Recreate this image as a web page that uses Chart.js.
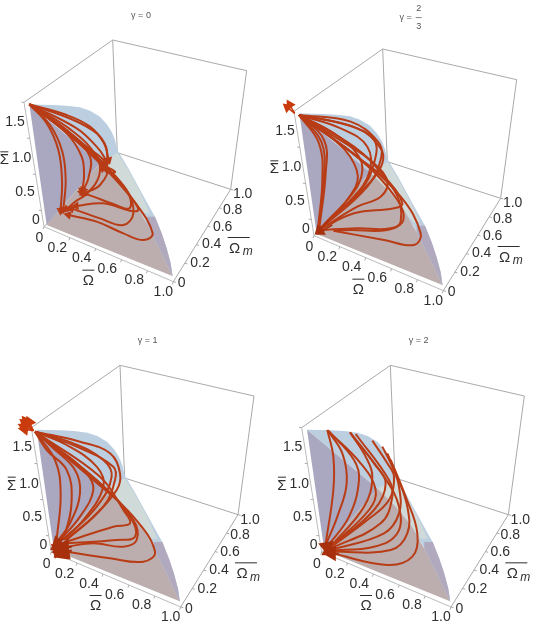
<!DOCTYPE html>
<html><head><meta charset="utf-8">
<style>html,body{margin:0;padding:0;background:#fff;overflow:hidden}
#wrap{position:relative;width:548px;height:627px;overflow:hidden}
canvas{position:absolute;filter:blur(0.35px)}</style>
<script src="https://cdn.jsdelivr.net/npm/chart.js@4"></script></head>
<body><div id="wrap">
<canvas id="c0"></canvas><canvas id="c1"></canvas><canvas id="c2"></canvas><canvas id="c3"></canvas>
</div>
<script>
// tick labels
const sigmaTicks=["1.5","1.0","0.5","0"];
const omegaTicks=["0","0.2","0.4","0.6","0.8","1.0"];
const omegaMTicks=["0","0.2","0.4","0.6","0.8","1.0"];
const gammaTitles=["γ = 0","γ = 2/3","γ = 1","γ = 2"];

// trajectories (projected view coordinates, [x,y])
const curvesG0=[
 [[88,313],[140,370],[175,450],[186,540],[182,632]],
 [[88,313],[150,375],[187,455],[197,540],[190,628]],
 [[88,313],[200,400],[245,470],[252,530],[246,572]],
 [[88,313],[210,400],[270,470],[265,535],[250,570]],
 [[88,313],[220,395],[290,470],[298,525],[262,580],[225,605],[200,628]],
 [[88,313],[230,385],[290,440],[312,470],[318,488]],
 [[88,313],[220,360],[290,400],[318,440],[322,482]],
 [[88,313],[200,345],[270,380],[312,430],[326,480]],
 [[88,313],[200,390],[300,480],[400,600],[458,700],[430,720],[370,700],[290,665],[205,645]],
 [[88,313],[190,390],[300,490],[380,570],[400,640],[370,675],[300,655],[215,625]],
 [[88,313],[210,400],[320,510],[395,595],[415,630],[390,632],[310,610],[228,618]],
 [[88,313],[230,420],[320,500],[385,580],[388,625],[340,612],[280,590],[245,578]],
 [[88,313],[260,440],[322,500],[300,555],[250,580]],
 [[300,490],[345,515],[325,518],[308,505]],
];
const curvesG23=[
 [[75,345],[135,430],[145,540],[132,685]],
 [[75,345],[142,425],[150,530],[134,685]],
 [[75,345],[150,420],[155,520],[136,685]],
 [[75,345],[170,410],[240,490],[245,560],[135,690]],
 [[75,345],[180,400],[255,470],[262,530],[220,600],[135,690]],
 [[75,345],[200,385],[280,440],[285,520],[230,600],[135,690]],
 [[75,345],[220,375],[300,420],[300,490],[260,570],[135,690]],
 [[75,345],[230,365],[312,425],[322,470],[280,560],[135,690]],
 [[75,345],[250,385],[320,445],[325,490],[290,545],[135,690]],
 [[75,345],[240,440],[340,540],[385,610],[360,625],[240,640],[135,690]],
 [[75,345],[250,470],[380,590],[440,700],[420,735],[330,720],[178,692]],
 [[75,345],[260,480],[370,600],[388,660],[350,685],[250,685],[140,690]],
 [[75,345],[250,470],[360,570],[380,665],[340,690],[230,690],[180,692]],
 [[75,345],[230,440],[300,490],[340,545],[320,590],[250,620],[135,690]],
];
const curvesG1=[
 [[105,335],[165,420],[182,520],[170,660]],
 [[105,335],[140,390],[200,450],[215,540],[195,640],[172,665]],
 [[105,335],[160,385],[225,450],[240,520],[210,610],[175,660]],
 [[105,335],[180,390],[260,460],[280,510],[240,590],[180,660]],
 [[105,335],[200,375],[290,440],[310,500],[250,600],[185,660]],
 [[105,335],[220,370],[310,420],[335,470],[290,560],[190,660]],
 [[105,335],[240,365],[330,400],[360,460],[350,510],[280,590],[195,660]],
 [[105,335],[230,380],[340,440],[345,480],[310,560],[200,660]],
 [[105,335],[300,470],[370,570],[390,610],[340,620],[200,665]],
 [[105,335],[290,480],[390,590],[405,650],[350,660],[200,670]],
 [[105,335],[300,490],[400,600],[410,660],[370,680],[280,670],[200,680]],
 [[105,335],[280,480],[400,590],[465,695],[430,725],[330,715],[200,695]],
];
const curvesG2=[
 [[160,330],[178,410],[178,510],[155,672]],
 [[160,330],[205,400],[218,490],[190,590],[155,675]],
 [[163,332],[240,420],[255,480],[225,590],[160,680]],
 [[165,335],[260,430],[305,510],[285,570],[165,685]],
 [[228,337],[275,410],[295,470],[270,560],[165,685]],
 [[228,337],[300,430],[335,490],[300,570],[165,685]],
 [[245,342],[345,480],[355,530],[320,610],[165,688]],
 [[295,362],[340,430],[360,470],[345,540],[280,600],[165,685]],
 [[325,380],[355,440],[375,500],[375,580],[330,640],[170,690]],
 [[340,400],[370,470],[400,560],[400,640],[350,690],[170,695]],
 [[350,420],[395,530],[430,640],[415,710],[340,735],[175,700]],
 [[230,340],[330,470],[375,560],[370,640],[300,680],[168,692]],
];
const curveSets=[curvesG0,curvesG23,curvesG1,curvesG2];
// short outgoing arrows at the top corner
const outArrows=[[],
 [[[62,340],[40,322]],[[62,340],[47,314]]],
 [[[100,332],[78,304]],[[100,332],[74,310]],[[100,332],[72,320]],[[100,332],[74,328]],[[100,332],[88,306]]],
 []];
// head clusters around the end corner
const endArrows=[[],
 [[[165,660],[135,690]],[[175,675],[140,695]]],
 [[[215,690],[185,702]],[[215,680],[180,690]],[[205,670],[175,680]],[[190,655],[172,672]],[[180,660],[172,690]],[[215,695],[195,698]],[[215,680],[192,680]]],
 [[[185,690],[158,680]],[[195,700],[172,700]],[[185,680],[165,692]]]];

// drawing layout (view coordinates)
const panelShift=[[0,0],[-12,27],[22,16],[11,16]];
const topFrame=[[72,307],[338,120],[740,212],[692,568]];
const backEdge=[[338,120],[352,458]];
const backFloor=[[352,458],[692,568]];
const sigmaAxis=[[72,307],[132,680]];
const omegaAxis=[[132,680],[520,845]];
const omegaMAxis=[[520,845],[692,568]];
const backFloorLeft=[[132,680],[352,458]];
const sBlue=[[88,313],[125,314],[160,315],[200,317],[240,322],[270,332],[300,350],[320,372],[335,395],[345,420],[352,450],[385,505],[415,560],[445,615],[465,650],[485,700],[500,745],[512,790],[518,830],[430,650],[300,490]];
const sPale=[[300,490],[352,458],[385,510],[420,575],[450,640],[430,640]];
const sWall=[[88,313],[300,490],[140,675]];
const sFloor=[[140,675],[300,490],[350,540],[400,600],[440,670],[480,750],[517,828]];
const sLilac=[[440,650],[465,650],[485,700],[500,745],[512,790],[518,830],[480,750],[440,670]];
const sigmaTickPos=[[45,365],[65,475],[75,575],[108,660]];
const omegaTickPos=[[118,715],[172,745],[245,775],[322,808],[403,840],[490,875]];
const omegaMTickPos=[[545,850],[600,790],[635,733],[668,680],[698,630],[728,583]];
const titlePos=[[423,48],[410,52],[443,62],[434,62]];
const panels=[{l:0,t:0,h:310},{l:274,t:0,h:310},{l:0,t:320,h:307},{l:274,t:320,h:307}];
const tickFracs=[0,0.2,0.4,0.6,0.8,1];
const sigmaTickFracs=[0,0.29,0.58,0.87];
const PAD=10;

function pts(a,s){return a.map(p=>({x:p[0]+s[0],y:p[1]+s[1]}));}
function raw(a){return a.map(p=>({x:p[0],y:p[1]}));}
const poly=(a,s,c)=>({data:pts(a,s),showLine:true,fill:'shape',backgroundColor:c,borderColor:c,borderWidth:0,pointRadius:0,tension:0});
const edge=(a,s,c,w)=>({data:pts(a,s),showLine:true,fill:false,borderColor:c,borderWidth:w||1,pointRadius:0,tension:0});
const along=(ax,f)=>[ax[0][0]+(ax[1][0]-ax[0][0])*f,ax[0][1]+(ax[1][1]-ax[0][1])*f];
const tickMark=(ax,f,dx,dy)=>{const q=along(ax,f);return [q,[q[0]+dx,q[1]+dy]];};
const arrowRot=ctx=>{const d=ctx.dataset.data,i=ctx.dataIndex;if(i<1)return 0;
  const a=d[i-1],b=d[i];return Math.atan2(b.x-a.x,-(b.y-a.y))*180/Math.PI;};
const curve=(a,col,r,w,t)=>({data:raw(a),showLine:true,fill:false,borderColor:col,backgroundColor:col,
  borderWidth:w,tension:t,clip:false,
  pointStyle:'triangle',pointRadius:c=>c.dataIndex===c.dataset.data.length-1?r:0,pointRotation:arrowRot,pointBorderWidth:0});

const labelPlugin={id:'labels',afterDraw(chart,args,o){
  const c=chart.ctx,X=chart.scales.x,Y=chart.scales.y,s=o.shift;
  const px=p=>[X.getPixelForValue(p[0]+s[0]),Y.getPixelForValue(p[1]+s[1])];
  c.save();c.fillStyle='#2f2f2f';c.strokeStyle='#2f2f2f';c.textAlign='center';c.textBaseline='middle';
  c.font='14px "Liberation Sans"';
  const put=(t,pos)=>t.forEach((v,i)=>{const q=px(pos[i]);c.fillText(v,q[0],q[1]);});
  put(sigmaTicks,sigmaTickPos);put(omegaTicks,omegaTickPos);put(omegaMTicks,omegaMTickPos);
  // Omega label
  let q=px([265,842]);c.font='15px "Liberation Sans"';c.fillText('Ω',q[0],q[1]);
  c.fillRect(q[0]-6,q[1]-11,12,1);
  // Omega_m label
  q=px([722,747]);c.fillText('Ω',q[0]-6,q[1]);
  c.font='italic 12px "Liberation Sans"';c.fillText('m',q[0]+7,q[1]+3);
  c.fillRect(q[0]-13,q[1]-12,22,1);
  // Sigma label
  q=px([13,481]);c.font='15px "Liberation Sans"';c.fillText('Σ',q[0],q[1]);
  c.fillRect(q[0]-4,q[1]-9,8,1);
  // title
  c.fillStyle='#555';c.font='9px "Liberation Sans"';
  const t=o.title,p=o.titleAt;const tx=X.getPixelForValue(p[0]),ty=Y.getPixelForValue(p[1]);
  if(t.includes('/')){const parts=t.split('/');const head=parts[0].slice(0,-1);
    c.textAlign='right';c.fillText(head.trim(),tx+1,ty);
    c.textAlign='center';const d=parts[0].slice(-1);
    c.fillText(d,tx+8,ty-9);c.fillText(parts[1],tx+8,ty+9);c.fillRect(tx+5,ty,6,0.7);
  }else c.fillText(t,tx,ty);
  c.restore();
}};

panels.forEach((p,i)=>{
  const s=panelShift[i];
  const cv=document.getElementById('c'+i);
  cv.width=274+PAD;cv.height=p.h;cv.style.left=(p.l-PAD)+'px';cv.style.top=p.t+'px';
  const ds=[];
  ds.push(edge(topFrame,s,'#a9a9a9',1),edge(backEdge,s,'#a9a9a9',1),edge(backFloor,s,'#a9a9a9',1),
          edge(backFloorLeft,s,'#a9a9a9',1));
  ds.push(poly(sBlue,s,'#bccfe1'),poly(sPale,s,'#cfdad9'),poly(sWall,s,'#a9a8c0'),poly(sFloor,s,'#bcaeae'),poly(sLilac,s,'#b1a9bd'));
  ds.push(edge(sigmaAxis,s,'#bbbbbb',1),edge(omegaAxis,s,'#bbbbbb',1),edge(omegaMAxis,s,'#a9a9a9',1));
  tickFracs.forEach(f=>{ds.push(edge(tickMark(omegaAxis,f,-3,8),s,'#a9a9a9',1));ds.push(edge(tickMark(omegaMAxis,f,8,2),s,'#a9a9a9',1));});
  sigmaTickFracs.forEach(f=>ds.push(edge(tickMark(sigmaAxis,f,-8,-1),s,'#a9a9a9',1)));
  curveSets[i].forEach(a=>ds.push(curve(a,'#b83c16',i==0?5:0,2,0.4)));
  outArrows[i].forEach(a=>ds.push(curve(a,'#c93a0c',i==1?6:7,1.5,0)));
  endArrows[i].forEach(a=>ds.push(curve(a,'#a8300c',i==1?6:9,1.5,0)));
  ds.reverse();
  new Chart(cv,{type:'scatter',data:{datasets:ds},plugins:[labelPlugin],options:{
    responsive:false,animation:false,events:[],
    layout:{padding:0,autoPadding:false},
    scales:{x:{type:'linear',min:-PAD*3,max:822,display:false},y:{type:'linear',min:0,max:p.h*3,reverse:true,display:false}},
    plugins:{legend:{display:false},tooltip:{enabled:false},title:{display:false},
      labels:{shift:s,title:gammaTitles[i],titleAt:titlePos[i]}}
  }});
});
</script></body></html>
